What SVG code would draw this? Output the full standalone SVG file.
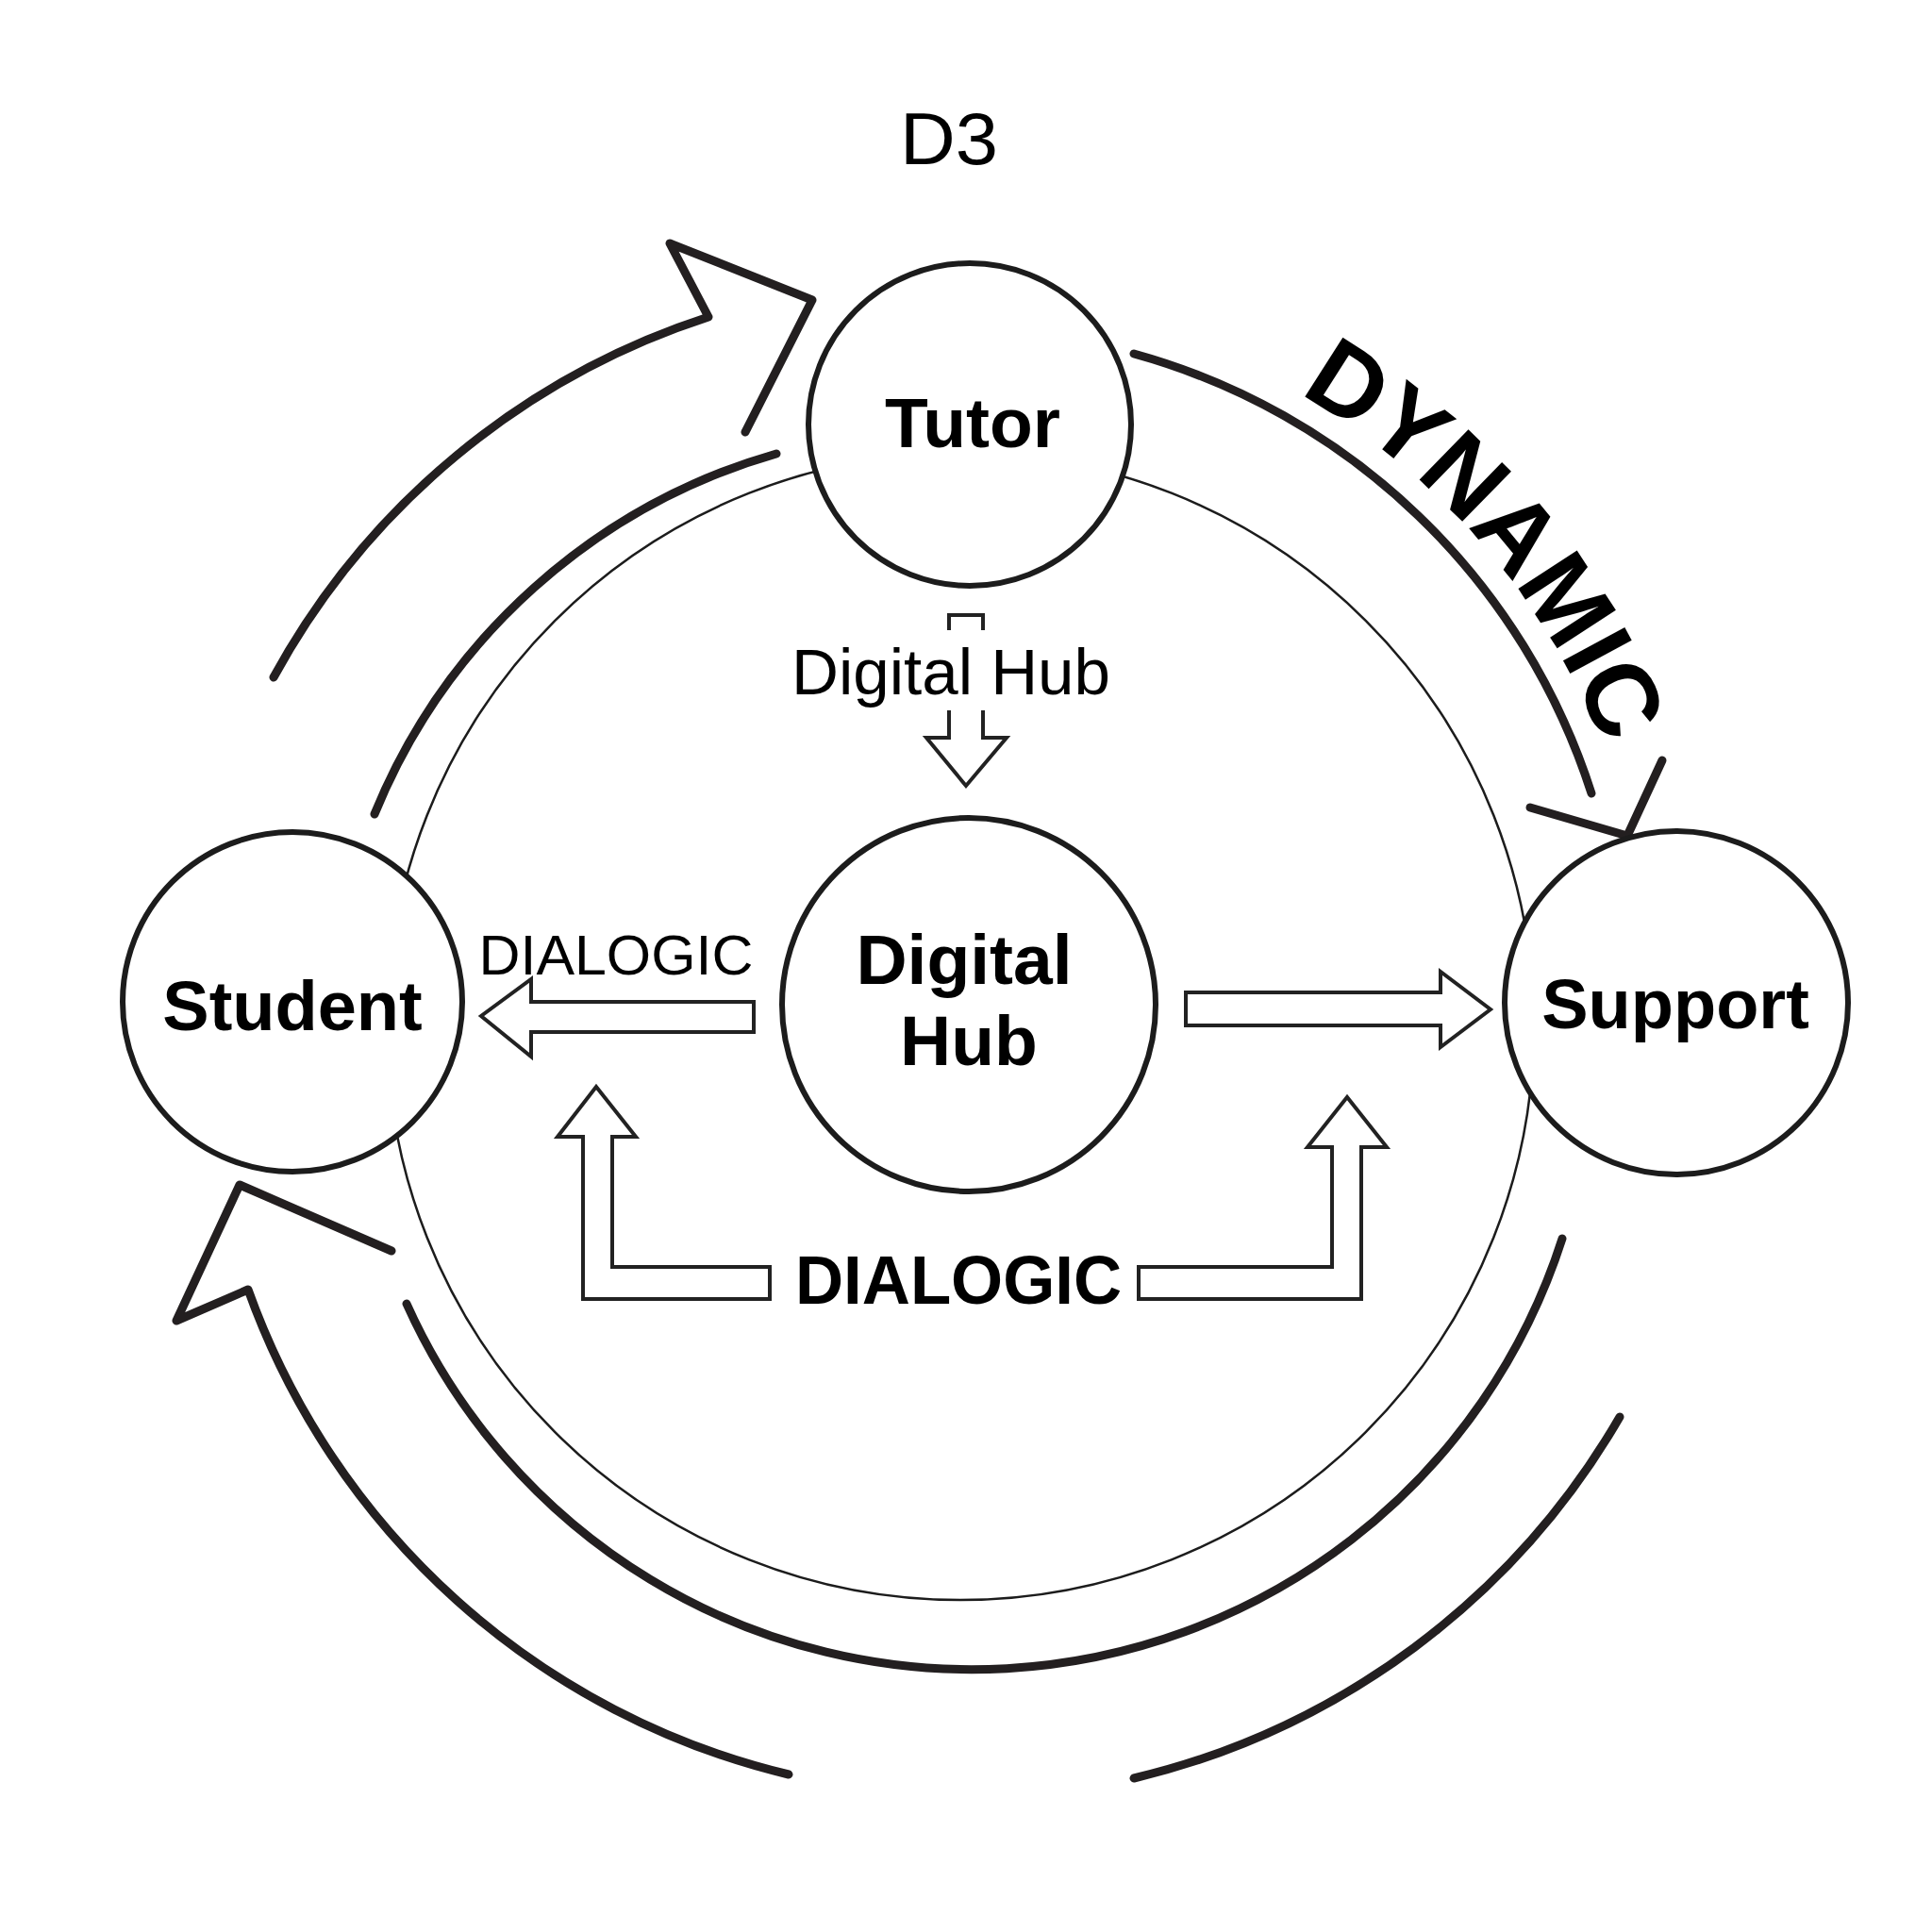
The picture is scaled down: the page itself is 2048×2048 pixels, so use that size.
<svg xmlns="http://www.w3.org/2000/svg" width="2048" height="2048" viewBox="0 0 2048 2048">
<style>
.node{fill:#fff;stroke:#1c1c1c;stroke-width:6}
.ring{fill:none;stroke:#1c1c1c;stroke-width:2.5}
.flow{fill:none;stroke:#231f20;stroke-width:9;stroke-linecap:round;stroke-linejoin:round}
.block{fill:#fff;stroke:#222;stroke-width:4;stroke-linejoin:miter}
.bold{font-family:"Liberation Sans",Arial,sans-serif;font-weight:bold;fill:#000;text-anchor:middle}
.reg{font-family:"Liberation Sans",Arial,sans-serif;fill:#000;text-anchor:middle}
</style>
<defs>
<path id="dynPath" d="M1336,396 A735,735 0 0 1 1738,929"/>
</defs>
<rect width="2048" height="2048" fill="#fff"/>
<text class="reg" x="1006" y="174" font-size="78" textLength="104" lengthAdjust="spacingAndGlyphs">D3</text>
<circle class="ring" cx="1018" cy="1088" r="608"/>
<g id="connectors">
<path class="flow" d="M290,718 A810,810 0 0 1 751,336 L710,258 L861,318 L790,458"/>
<path class="flow" d="M397,863 A655,655 0 0 1 823,481"/>
<path class="flow" d="M1202,375 A707,707 0 0 1 1687,841"/>
<path class="flow" d="M1622,856 L1725,886 L1762,806"/>
<path class="flow" d="M1656,1313 A657,657 0 0 1 431,1382"/>
<path class="flow" d="M1717,1502 A812,812 0 0 1 1202,1885"/>
<path class="flow" d="M836,1881 A808,808 0 0 1 263,1367 L187,1400 L254,1256 L415,1326"/>
<polygon class="block" points="1257,1052 1527,1052 1527,1030 1580,1070 1527,1110 1527,1087 1257,1087"/>
<polygon class="block" points="799,1062 563,1062 563,1038 510,1077 563,1120 563,1094 799,1094"/>
<polygon class="block" points="816,1343 649,1343 649,1205 674,1205 632,1152 591,1205 618,1205 618,1377 816,1377"/>
<polygon class="block" points="1207,1343 1412,1343 1412,1216 1386,1216 1428,1163 1470,1216 1443,1216 1443,1377 1207,1377"/>
<path class="block" fill="none" d="M1006,668 V652 H1042 V668"/>
<path class="block" d="M1006,753 V782 H982 L1024,833 L1067,782 H1042 V753"/>
</g>
<text class="reg" x="1008" y="736" font-size="68" textLength="338" lengthAdjust="spacingAndGlyphs">Digital Hub</text>
<text class="reg" x="653" y="1033" font-size="60" textLength="291" lengthAdjust="spacingAndGlyphs">DIALOGIC</text>
<text class="bold" x="1016" y="1382" font-size="72" textLength="346" lengthAdjust="spacingAndGlyphs">DIALOGIC</text>
<text class="bold" font-size="108" style="text-anchor:start"><textPath href="#dynPath" startOffset="46">DYNAMIC</textPath></text>
<g id="node-tutor">
<circle class="node" cx="1028" cy="450" r="171"/>
<text class="bold" x="1031" y="474" font-size="75">Tutor</text>
</g>
<g id="node-student">
<circle class="node" cx="310" cy="1062" r="180"/>
<text class="bold" x="310" y="1092" font-size="74">Student</text>
</g>
<g id="node-support">
<circle class="node" cx="1777" cy="1063" r="182"/>
<text class="bold" x="1776" y="1090" font-size="74">Support</text>
</g>
<g id="node-hub">
<circle class="node" cx="1027" cy="1065" r="198"/>
<text class="bold" x="1022" y="1043" font-size="75">Digital</text>
<text class="bold" x="1027" y="1129" font-size="75">Hub</text>
</g>
</svg>
